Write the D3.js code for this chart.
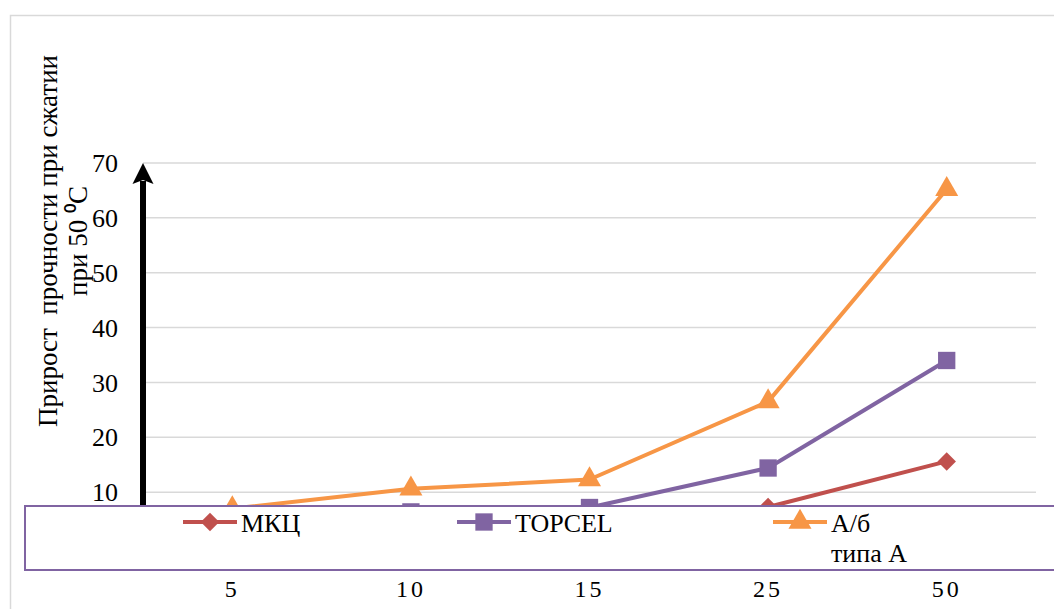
<!DOCTYPE html>
<html>
<head>
<meta charset="utf-8">
<script src="https://cdn.jsdelivr.net/npm/d3@7"></script>
<style>
  html, body { margin: 0; padding: 0; background: #fff; }
</style>
</head>
<body>
<svg id="chart" width="1054" height="609"></svg>
<script>
// Concentration categories along the x axis
const categories = ["5", "10", "15", "25", "50"];

// Strength gain per additive
const seriesNames = ["МКЦ", "TOPCEL", "А/б типа А"];
const mkcValues = [2.0, 3.2, 4.6, 7.3, 15.6];
const topcelValues = [4.0, 6.4, 7.2, 14.4, 34.0];
const abValues = [7.0, 10.6, 12.3, 26.5, 65.2];

const yTicks = [0, 10, 20, 30, 40, 50, 60, 70];
const yTitle = ["Прирост  прочности при сжатии", "при 50 ⁰С"];

const colors = ["#C0504D", "#8064A2", "#F79646"];
const FONT = "Liberation Serif";

// Marker shapes: rotated square (diamond), square, triangle
const markers = [
  { type: d3.symbolSquare, size: 170, rotate: 45 },
  { type: d3.symbolSquare, size: 300, rotate: 0 },
  { type: d3.symbolTriangle, size: 230, rotate: 0 }
];

const series = seriesNames.map((name, i) => ({
  name,
  values: [mkcValues, topcelValues, abValues][i],
  color: colors[i],
  marker: markers[i]
}));

const svg = d3.select("#chart");
const W = 1054, H = 609;
const plot = { left: 143, right: 1036, top: 163, bottom: 547 };

// Outer chart border
svg.append("rect")
  .attr("x", 10.5).attr("y", 15.5)
  .attr("width", W + 20).attr("height", H + 20)
  .attr("fill", "#fff").attr("stroke", "#D9D9D9").attr("stroke-width", 1.5);

const x = d3.scalePoint().domain(categories)
  .range([plot.left, plot.right]).padding(0.5);
const y = d3.scaleLinear().domain([0, 70]).range([plot.bottom, plot.top]);

// Horizontal gridlines
svg.append("g").selectAll("line").data(yTicks).join("line")
  .attr("x1", plot.left).attr("x2", plot.right)
  .attr("y1", d => y(d)).attr("y2", d => y(d))
  .attr("stroke", "#D9D9D9").attr("stroke-width", 1.5);

// Y tick labels
svg.append("g").selectAll("text").data(yTicks).join("text")
  .attr("x", 118).attr("y", d => y(d))
  .attr("dy", "0.35em")
  .attr("text-anchor", "end")
  .style("font-family", FONT)
  .style("font-size", "26px")
  .attr("fill", "#000")
  .text(d => d);

// Y axis drawn as a thick arrow
const arrowX = plot.left;
svg.append("line")
  .attr("x1", arrowX).attr("x2", arrowX)
  .attr("y1", y(0)).attr("y2", y(70) + 18)
  .attr("stroke", "#000").attr("stroke-width", 6);
svg.append("path")
  .attr("d", `M${arrowX},${y(70)} L${arrowX - 10.5},${y(70) + 21} L${arrowX},${y(70) + 17} L${arrowX + 10.5},${y(70) + 21} Z`)
  .attr("fill", "#000");

// Y axis title, two rotated lines
const titleG = svg.append("g").attr("transform", "translate(0,241)");
titleG.append("text")
  .attr("transform", "translate(57,0) rotate(-90)")
  .attr("text-anchor", "middle")
  .style("font-family", FONT)
  .style("font-size", "27px")
  .style("white-space", "pre")
  .text(yTitle[0]);
titleG.append("text")
  .attr("transform", "translate(87,0) rotate(-90)")
  .attr("text-anchor", "middle")
  .style("font-family", FONT)
  .style("font-size", "27px")
  .text(yTitle[1]);

// Series lines and markers
const line = d3.line()
  .x((d, i) => x(categories[i]))
  .y(d => y(d));

function markerPath(m) {
  return d3.symbol().type(m.type).size(m.size)();
}

series.forEach(s => {
  const g = svg.append("g");
  g.append("path")
    .attr("d", line(s.values))
    .attr("fill", "none")
    .attr("stroke", s.color)
    .attr("stroke-width", 4)
    .attr("stroke-linejoin", "round");
  g.selectAll("path.m").data(s.values).join("path")
    .attr("class", "m")
    .attr("transform", (d, i) => `translate(${x(categories[i])},${y(d)}) rotate(${s.marker.rotate})`)
    .attr("d", markerPath(s.marker))
    .attr("fill", s.color);
});

// Legend box laid over the lower part of the plot
const legend = svg.append("g");
legend.append("rect")
  .attr("x", 25).attr("y", 506)
  .attr("width", W).attr("height", 64)
  .attr("fill", "#fff")
  .attr("stroke", "#8064A2").attr("stroke-width", 2);

const legendX = [183, 457, 773];
const legendY = 522;
series.forEach((s, i) => {
  const gx = legendX[i];
  legend.append("line")
    .attr("x1", gx).attr("x2", gx + 54)
    .attr("y1", legendY).attr("y2", legendY)
    .attr("stroke", s.color).attr("stroke-width", 4);
  legend.append("path")
    .attr("transform", `translate(${gx + 27},${legendY}) rotate(${s.marker.rotate})`)
    .attr("d", markerPath(s.marker))
    .attr("fill", s.color);
  const words = i === 2 ? ["А/б", "типа А"] : [s.name];
  words.forEach((w, k) => {
    legend.append("text")
      .attr("x", gx + 58)
      .attr("y", legendY + 10 + k * 30)
      .style("font-family", FONT)
      .style("font-size", "26px")
      .text(w);
  });
});

// X category labels
svg.append("g").selectAll("text").data(categories).join("text")
  .attr("x", d => x(d))
  .attr("y", 597)
  .attr("text-anchor", "middle")
  .style("font-family", FONT)
  .style("font-size", "24px")
  .attr("letter-spacing", 3)
  .text(d => d);
</script>
</body>
</html>
